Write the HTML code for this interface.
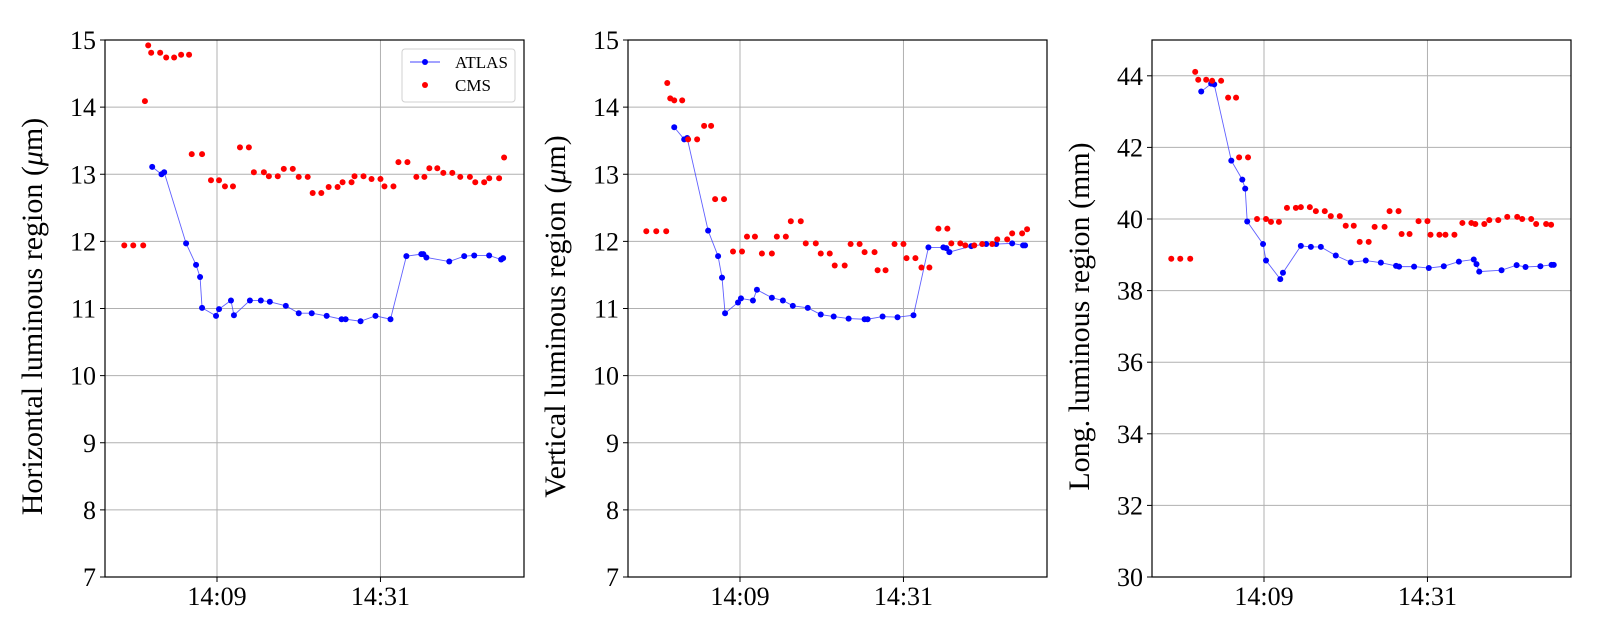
<!DOCTYPE html>
<html><head><meta charset="utf-8"><style>
html,body{margin:0;padding:0;background:#fff;}
svg, svg text{font-family:"Liberation Serif","Noto Serif CJK SC",serif;}
svg{display:block;}
</style></head><body>
<svg id="chart" width="1600" height="640" viewBox="0 0 1600 640" xmlns="http://www.w3.org/2000/svg"></svg>
<script>
// time in minutes after 14:00
const xTickValues=[9,31];
const xTickLabels=["14:09","14:31"];
const h_yTicks=[7,8,9,10,11,12,13,14,15];
const l_yTicks=[30,32,34,36,38,40,42,44];

const h_cmsT=[-3.48,-2.27,-0.93,-0.70,-0.26,0.14,1.35,2.16,3.23,4.17,5.24,5.60,6.99,8.19,9.27,10.07,11.15,12.09,13.29,13.96,15.31,15.98,17.18,17.99,19.20,20.00,21.21,21.88,23.04,24.03,25.23,25.90,27.11,27.51,28.72,29.80,31.00,31.54,32.75,33.42,34.63,35.83,36.91,37.58,38.65,39.46,40.67,41.74,43.04,43.76,44.96,45.64,46.97,47.64];
const h_cmsV=[11.94,11.94,11.94,14.09,14.92,14.81,14.81,14.74,14.74,14.78,14.78,13.30,13.30,12.91,12.91,12.82,12.82,13.40,13.40,13.03,13.03,12.97,12.97,13.08,13.08,12.96,12.96,12.72,12.72,12.81,12.81,12.88,12.88,12.97,12.97,12.93,12.93,12.82,12.82,13.18,13.18,12.96,12.96,13.09,13.09,13.02,13.02,12.96,12.96,12.88,12.88,12.94,12.94,13.25];
const h_atlasT=[0.28,1.53,1.89,4.84,6.18,6.72,6.99,8.87,9.27,10.88,11.28,13.43,14.90,16.11,18.26,20.00,21.75,23.76,25.77,26.31,28.32,30.33,32.35,34.49,36.50,36.77,37.18,40.26,42.27,43.62,45.63,47.24,47.51];
const h_atlasV=[13.11,13.00,13.03,11.97,11.65,11.47,11.01,10.89,10.99,11.12,10.90,11.12,11.12,11.10,11.04,10.93,10.93,10.89,10.84,10.84,10.81,10.89,10.84,11.78,11.81,11.81,11.76,11.70,11.78,11.79,11.79,11.73,11.75];

const v_cmsT=[-3.61,-2.27,-0.93,-0.79,-0.39,0.15,1.22,2.02,3.23,4.17,5.11,5.65,6.85,8.06,9.27,9.94,11.01,11.95,13.29,13.96,15.17,15.84,17.18,17.85,19.20,19.87,21.08,21.75,23.09,23.89,25.10,25.77,27.11,27.52,28.59,29.80,31.00,31.41,32.61,33.42,34.49,35.70,36.91,37.44,38.65,39.32,40.53,41.60,42.94,43.62,44.96,45.63,46.97,47.64];
const v_cmsV=[12.15,12.15,12.15,14.36,14.13,14.10,14.10,13.52,13.52,13.72,13.72,12.63,12.63,11.85,11.85,12.07,12.07,11.82,11.82,12.07,12.07,12.30,12.30,11.97,11.97,11.82,11.82,11.64,11.64,11.96,11.96,11.84,11.84,11.57,11.57,11.96,11.96,11.75,11.75,11.61,11.61,12.19,12.19,11.97,11.97,11.94,11.94,11.96,11.96,12.03,12.03,12.12,12.12,12.18];
const v_atlasT=[0.15,1.49,1.89,4.71,6.05,6.58,6.99,8.73,9.13,10.74,11.28,13.29,14.77,16.11,18.12,19.87,21.61,23.62,25.77,26.17,28.19,30.20,32.35,34.36,36.37,36.77,37.18,40.13,42.14,43.48,45.63,47.10,47.37];
const v_atlasV=[13.70,13.52,13.54,12.16,11.78,11.46,10.93,11.09,11.15,11.12,11.28,11.16,11.12,11.04,11.01,10.91,10.88,10.85,10.84,10.84,10.88,10.87,10.90,11.91,11.91,11.90,11.84,11.93,11.96,11.96,11.97,11.94,11.94];

const l_cmsT=[-3.48,-2.27,-0.93,-0.26,0.15,1.22,2.02,3.23,4.17,5.24,5.65,6.85,8.06,9.27,9.94,11.01,12.09,13.29,13.96,15.17,15.98,17.18,17.99,19.20,20.00,21.08,21.88,23.09,23.89,25.23,25.90,27.11,27.52,28.59,29.80,31.00,31.41,32.61,33.42,34.63,35.70,36.91,37.44,38.65,39.32,40.53,41.74,43.08,43.75,44.96,45.63,46.97,47.64];
const l_cmsV=[38.89,38.89,38.89,44.11,43.89,43.89,43.86,43.86,43.39,43.39,41.72,41.72,40.00,40.00,39.92,39.92,40.31,40.31,40.33,40.33,40.22,40.22,40.08,40.08,39.81,39.81,39.36,39.36,39.78,39.78,40.22,40.22,39.58,39.58,39.94,39.94,39.56,39.56,39.56,39.56,39.89,39.89,39.86,39.86,39.97,39.97,40.06,40.06,40.00,40.00,39.86,39.86,39.84];
const l_atlasT=[0.55,1.89,2.30,4.60,6.08,6.47,6.74,8.87,9.27,11.19,11.55,13.96,15.31,16.65,18.66,20.67,22.70,24.73,26.77,27.18,29.20,31.18,33.20,35.23,37.23,37.60,37.97,40.97,43.00,44.20,46.20,47.70,48.00];
const l_atlasV=[43.56,43.78,43.76,41.63,41.10,40.85,39.93,39.30,38.84,38.32,38.50,39.25,39.22,39.22,38.98,38.79,38.84,38.78,38.69,38.67,38.67,38.63,38.68,38.81,38.87,38.74,38.53,38.57,38.71,38.66,38.68,38.72,38.72];

const NS="http://www.w3.org/2000/svg";
const svg=document.getElementById('chart');
function mk(tag,attrs,parent){const e=document.createElementNS(NS,tag);for(const k in attrs)e.setAttribute(k,attrs[k]);(parent||svg).appendChild(e);return e;}

const PXMIN=7.43;
const T0=9-112/PXMIN,TOP=40,BOT=577,W=419;
const T1=T0+W/PXMIN;
function drawPanel(left,ymin,ymax,yTicks,atT,atV,cmT,cmV,title,key,legend){
  const g=mk('g',{});
  
  
  const xs=t=>left+(t-T0)/(T1-T0)*W;
  const ys=v=>BOT-(v-ymin)/(ymax-ymin)*(BOT-TOP);
  yTicks.forEach(v=>{
    const l=mk('line',{x1:left,x2:left+W,y1:ys(v),y2:ys(v),stroke:'#b0b0b0','stroke-width':1},g);
    
    
    mk('line',{x1:left-5,x2:left,y1:ys(v),y2:ys(v),stroke:'#000','stroke-width':1},g);
    const t=mk('text',{x:left-9,y:ys(v)+9,'text-anchor':'end','font-size':26},g);
    t.textContent=v;
    
    
  });
  xTickValues.forEach((v,i)=>{
    const l=mk('line',{x1:xs(v),x2:xs(v),y1:TOP,y2:BOT,stroke:'#b0b0b0','stroke-width':1},g);
    
    
    mk('line',{x1:xs(v),x2:xs(v),y1:BOT,y2:BOT+5,stroke:'#000','stroke-width':1},g);
    const t=mk('text',{x:xs(v),y:BOT+28,'text-anchor':'middle','font-size':26},g);
    t.textContent=xTickLabels[i];
    
    
  });
  const pl=mk('polyline',{points:atT.map((t,i)=>xs(t)+','+ys(atV[i])).join(' '),fill:'none',stroke:'#4444ff','stroke-width':0.9,opacity:0.85},g);
  
  
  atT.forEach((t,i)=>{
    const c=mk('circle',{cx:xs(t),cy:ys(atV[i]),r:3,fill:'#0000ff'},g);
    
    
  });
  cmT.forEach((t,i)=>{
    const c=mk('circle',{cx:xs(t),cy:ys(cmV[i]),r:3,fill:'#ff0000'},g);
    
    
  });
  const fr=mk('rect',{x:left,y:TOP,width:W,height:BOT-TOP,fill:'none',stroke:'#000','stroke-width':1.2},g);
  
  
  const cx=left-63, cy=(TOP+BOT)/2+8;
  const tt=mk('text',{x:cx,y:cy,'text-anchor':'middle','font-size':30,transform:`rotate(-90 ${cx} ${cy})`},g);
  tt.innerHTML=title;
  
  
  if(legend){
    const lg=mk('g',{},g);
    
    
    mk('rect',{x:402,y:49,width:113,height:53,rx:3,fill:'#fff',stroke:'#d0d0d0','stroke-width':1},lg);
    mk('line',{x1:410,x2:440,y1:62,y2:62,stroke:'#4444ff','stroke-width':1},lg);
    mk('circle',{cx:425,cy:62,r:3,fill:'#0000ff'},lg);
    const a=mk('text',{x:455,y:68,'font-size':17},lg);a.textContent='ATLAS';
    
    
    mk('circle',{cx:425,cy:85,r:3,fill:'#ff0000'},lg);
    const b=mk('text',{x:455,y:91,'font-size':17},lg);b.textContent='CMS';
    
    
  }
}
drawPanel(105,7,15,h_yTicks,h_atlasT,h_atlasV,h_cmsT,h_cmsV,'Horizontal luminous region (<tspan font-style="italic">μ</tspan>m)','horizontal',true);
drawPanel(628,7,15,h_yTicks,v_atlasT,v_atlasV,v_cmsT,v_cmsV,'Vertical luminous region (<tspan font-style="italic">μ</tspan>m)','vertical',false);
drawPanel(1152,30,45,l_yTicks,l_atlasT,l_atlasV,l_cmsT,l_cmsV,'Long. luminous region (mm)','longitudinal',false);
</script>
</body></html>
